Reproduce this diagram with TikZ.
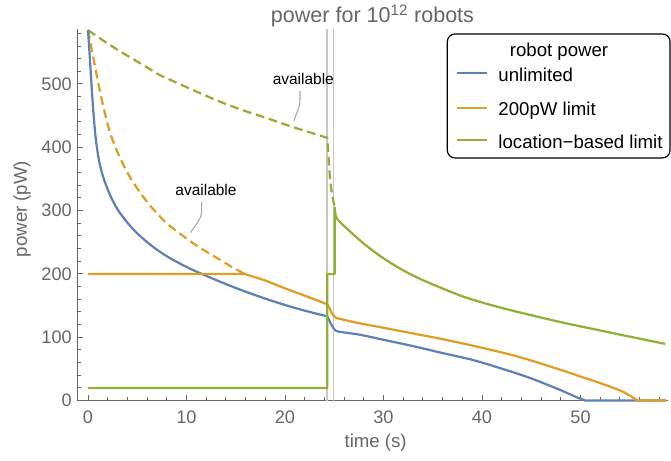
\documentclass[tikz,border=0pt]{standalone}
\usepackage{fontspec}
\setmainfont{Liberation Sans}
\usetikzlibrary{
  positioning
}

\definecolor{mmaBlue}{HTML}{5E81B5}
\definecolor{mmaOrange}{HTML}{E19C24}
\definecolor{mmaGreen}{HTML}{8FB032}
\definecolor{axisgray}{HTML}{666666}
\definecolor{markgray}{HTML}{C8C8C8}
\definecolor{leadgray}{HTML}{A6A6A6}

\tikzset{
  curve/.style={line width=1.9pt, line join=round},
  avail/.style={curve, dash pattern=on 7.5pt off 4pt},
  axisline/.style={axisgray, line width=0.8pt},
  marker/.style={markgray, line width=1.1pt},
  leader/.style={leadgray, line width=0.9pt},
  ticklabel/.style={text=axisgray, inner sep=0pt, font=\fontsize{15.5}{18}\selectfont},
  axislabel/.style={text=axisgray, inner sep=0pt, font=\fontsize{15.9}{19}\selectfont},
  legendtext/.style={inner sep=0pt, font=\fontsize{15.9}{19}\selectfont},
  availtext/.style={inner sep=0pt, font=\fontsize{13.2}{16}\selectfont},
}

\begin{document}
\begin{tikzpicture}[x=0.2955cm, y=0.019cm]

\useasboundingbox (-8.934,-95.2) rectangle (59.188,632.6);

% axes and ticks
\draw[axisline] (-1.117,0) -- (58.9,0);
\draw[axisline] (-1.117,0) -- (-1.117,587);
\foreach \t in {2,4,...,58} {
  \draw[axisline] (\t,0) -- ++(0,3pt);
}
\foreach \t in {0,10,...,50} {
  \draw[axisline] (\t,0) -- ++(0,5pt);
  \node[ticklabel, anchor=north] (xl\t) at (\t,-15.8) {\t};
}
\foreach \p in {20,40,...,580} {
  \draw[axisline] (-1.117,\p) -- ++(3pt,0);
}
\foreach \p in {0,100,...,500} {
  \draw[axisline] (-1.117,\p) -- ++(5pt,0);
  \node[ticklabel, anchor=east] (yl\p) at (-1.624,\p) {\p};
}

\node[axislabel, anchor=base] (xlabel) at (29.2,-74.7) {time (s)};
\node[axislabel, rotate=90] (ylabel) at (-6.70,302.6) {power (pW)};
\node[axislabel, anchor=base, font=\fontsize{18.4}{22}\selectfont] (title)
  at (28.88,596.8) {power for 10\textsuperscript{12} robots};

% the two switching times
\draw[marker] (24.25,0) -- (24.25,587);
\draw[marker] (24.95,0) -- (24.95,587);

% available power (dashed)
\draw[avail, mmaGreen] plot[smooth] coordinates {(0,585) (1.5,569) (3,554)
  (4.5,540) (6,526) (7.3,514) (9,502) (11,488) (13.4,472) (16,457) (18,447)
  (20,436) (22,426) (24.3,415)}
  -- plot[smooth] coordinates {(24.3,415) (24.42,385) (24.55,355) (24.75,328)
  (25.05,305)};
\draw[avail, mmaOrange] plot[smooth] coordinates {(0,585) (0.5,545) (1,505)
  (1.5,468) (2.2,425) (3,392) (4,360) (5,335) (6.3,308) (8,280) (10,256)
  (11.4,241) (13,226) (14.5,212) (15.9,200)};

% unlimited
\draw[curve, mmaBlue] plot[smooth] coordinates {(0,585) (0.15,550) (0.35,500)
  (0.55,455) (0.8,412) (1.1,381) (1.5,355) (2.2,326) (3,302) (4,281) (5,264)
  (6.5,244) (8,228) (10,211) (12,197) (14,184) (16,172) (18,161) (20,151)
  (22,142) (24.3,133)}
  -- plot[smooth] coordinates {(24.3,133) (24.55,125) (24.85,116) (25.15,110.5)
  (25.6,108.5) (27.6,104) (30,96) (33,86) (36,75) (39.1,64) (42.5,48) (45,35)
  (47.9,17) (49.5,6) (50.5,0)}
  -- (58.7,0);

% 200pW limit
\draw[curve, mmaOrange] (0,200) -- (15.9,200)
  -- plot[smooth] coordinates {(15.9,200) (18,189.5) (20.2,176) (22.3,164)
  (24.3,152)}
  -- plot[smooth] coordinates {(24.3,152) (24.55,145) (24.8,137) (25.15,131)
  (25.6,129) (27.6,122) (30,115) (33,106) (36,97) (39,87) (42,76) (44.2,67)
  (47.9,49) (50,38) (52,27.6) (54.3,14) (55.8,0)}
  -- (58.7,0);

% location-based limit
\draw[curve, mmaGreen] (0,20) -- (24.3,20) -- (24.3,200) -- (25.05,200)
  -- (25.05,305)
  -- plot[smooth] coordinates {(25.05,305) (25.25,288) (26.26,272)
  (27.95,248.5) (29.64,228.5) (31.33,211.6) (33,197.5) (34.72,185.3)
  (38.1,164.2) (41.5,148.4) (44.87,135.3) (48.25,123) (51.6,112) (55,101)
  (58.6,89.5)};

% callouts
\node[availtext, anchor=base] (availg) at (21.86,498.4) {available};
\coordinate (availgtop) at (21.52,488.9);
\coordinate (availgtip) at (20.91,441.6);
\draw[leader] (availgtop) -- ++(0,-14) to[out=-90, in=74] (availgtip);

\node[availtext, anchor=base] (availo) at (11.98,323.2) {available};
\coordinate (availotop) at (11.54,314.2);
\coordinate (availotip) at (10.43,265.2);
\draw[leader] (availotop) -- ++(0,-14) to[out=-90, in=62] (availotip);

% legend
\draw[fill=white, line width=1pt, rounded corners=6.5pt]
  (36.48,383.2) rectangle (59.09,578.9);
\node[legendtext, anchor=base] (legtitle) at (47.82,543.1) {robot power};
\coordinate (legb) at (37.43,516.9);
\coordinate (lego) at (37.43,461.6);
\coordinate (legg) at (37.43,411.6);
\draw[curve, mmaBlue] (legb) -- ++(3.05,0);
\draw[curve, mmaOrange] (lego) -- ++(3.05,0);
\draw[curve, mmaGreen] (legg) -- ++(3.05,0);
\node[legendtext, anchor=base west] (legbt) at (41.65,503.6) {unlimited};
\node[legendtext, anchor=base west] (legot) at (41.65,449.5) {200pW limit};
\node[legendtext, anchor=base west] (leggt) at (41.65,398.5) {location−based limit};

\end{tikzpicture}
\end{document}
